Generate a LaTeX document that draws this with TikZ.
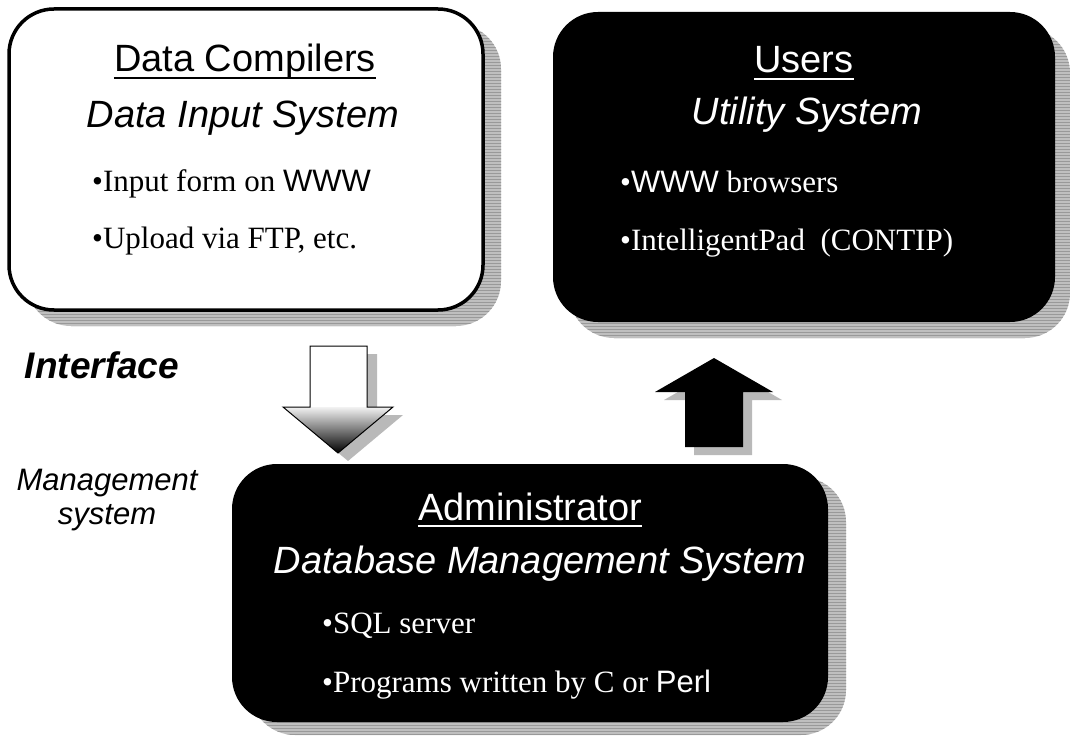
\documentclass[tikz,border=0pt]{standalone}
\usepackage{fontspec}
\setmainfont{Liberation Serif}
\setsansfont{Liberation Sans}
\usetikzlibrary{patterns}

\begin{document}
\begin{tikzpicture}[x=1pt,y=-1pt,
  shadowfill/.style={fill=gray!50, rounded corners=45pt},
  shadowlines/.style={pattern=horizontal lines, pattern color=gray!80, rounded corners=45pt},
  arrshadow/.style={fill=gray!55},
  head/.style={font=\sffamily\fontsize{38}{44}\selectfont, anchor=base, inner sep=0pt},
  sub/.style={font=\sffamily\itshape\fontsize{38}{44}\selectfont, anchor=base, inner sep=0pt},
  item/.style={font=\fontsize{31}{36}\selectfont, anchor=base west, inner sep=0pt},
  side/.style={font=\sffamily\itshape\fontsize{31}{36}\selectfont, anchor=base, inner sep=0pt},
  uline/.style={line width=2pt}]

\useasboundingbox (0,0) rectangle (1070,738);

% ---------- Box 1: Data Compilers ----------
\fill[shadowfill] (26,24) rectangle (501,326);
\fill[shadowlines] (26,24) rectangle (501,326);
\draw[line width=3.5pt, fill=white, rounded corners=45pt] (9,9) rectangle (483,310);
\node[head] (dc) at (245,72) {Data Compilers};
\draw[uline] ([yshift=-6pt]dc.base west) -- ([yshift=-6pt]dc.base east);
\node[sub] (dis) at (243,128) {Data Input System};
\node[item] (i1) at (92,192) {•Input form on \textsf{WWW}};
\node[item] (i2) at (92,248) {•Upload via FTP, etc.};

% ---------- Box 2: Users ----------
\fill[shadowfill] (569,28) rectangle (1070,338);
\fill[shadowlines] (569,28) rectangle (1070,338);
\fill[black, rounded corners=45pt] (553,12) rectangle (1055,322);
\node[head, text=white] (us) at (804,73) {Users};
\draw[uline, white] ([yshift=-6pt]us.base west) -- ([yshift=-6pt]us.base east);
\node[sub, text=white] (uts) at (807,125) {Utility System};
\node[item, text=white] (u1) at (620,193) {•\textsf{WWW} browsers};
\node[item, text=white] (u2) at (620,250) {•IntelligentPad\ \ (CONTIP)};

% ---------- Box 3: Administrator ----------
\fill[shadowfill] (250,477) rectangle (846,735);
\fill[shadowlines] (250,477) rectangle (846,735);
\fill[black, rounded corners=45pt] (232,464) rectangle (828,722);
\node[head, text=white] (ad) at (530,520) {Administrator};
\draw[uline, white] ([yshift=-6pt]ad.base west) -- ([yshift=-6pt]ad.base east);
\node[sub, text=white] (dbms) at (540,573) {Database Management System};
\node[item, text=white] (a1) at (322,633) {•SQL server};
\node[item, text=white] (a2) at (322,692) {•Programs written by C or \textsf{Perl}};

% ---------- Down arrow (interface) ----------
\fill[arrshadow] (320,354) -- (377,354) -- (377,415) -- (403,415) -- (348,461) -- (293,415) -- (320,415) -- cycle;
\fill[white] (310,346) -- (367,346) -- (367,407) -- (393,407) -- (338,453) -- (283,407) -- (310,407) -- cycle;
\shade[top color=gray!10, bottom color=black] (283,407) -- (393,407) -- (338,453) -- cycle;
\draw[line width=1pt] (310,346) -- (367,346) -- (367,407) -- (393,407) -- (338,453) -- (283,407) -- (310,407) -- cycle;

% ---------- Up arrow ----------
\fill[arrshadow] (723,366) -- (782,400) -- (752,400) -- (752,455) -- (694,455) -- (694,400) -- (664,400) -- cycle;
\fill[black] (714,358) -- (773,392) -- (743,392) -- (743,447) -- (685,447) -- (685,392) -- (655,392) -- cycle;

% ---------- Side labels ----------
\node[font=\sffamily\bfseries\itshape\fontsize{37}{44}\selectfont, anchor=base, inner sep=0pt] (itf) at (102,378) {Interface};
\node[side] (mg) at (107,490) {Management};
\node[side] (ms) at (107,524) {system};

\end{tikzpicture}
\end{document}
